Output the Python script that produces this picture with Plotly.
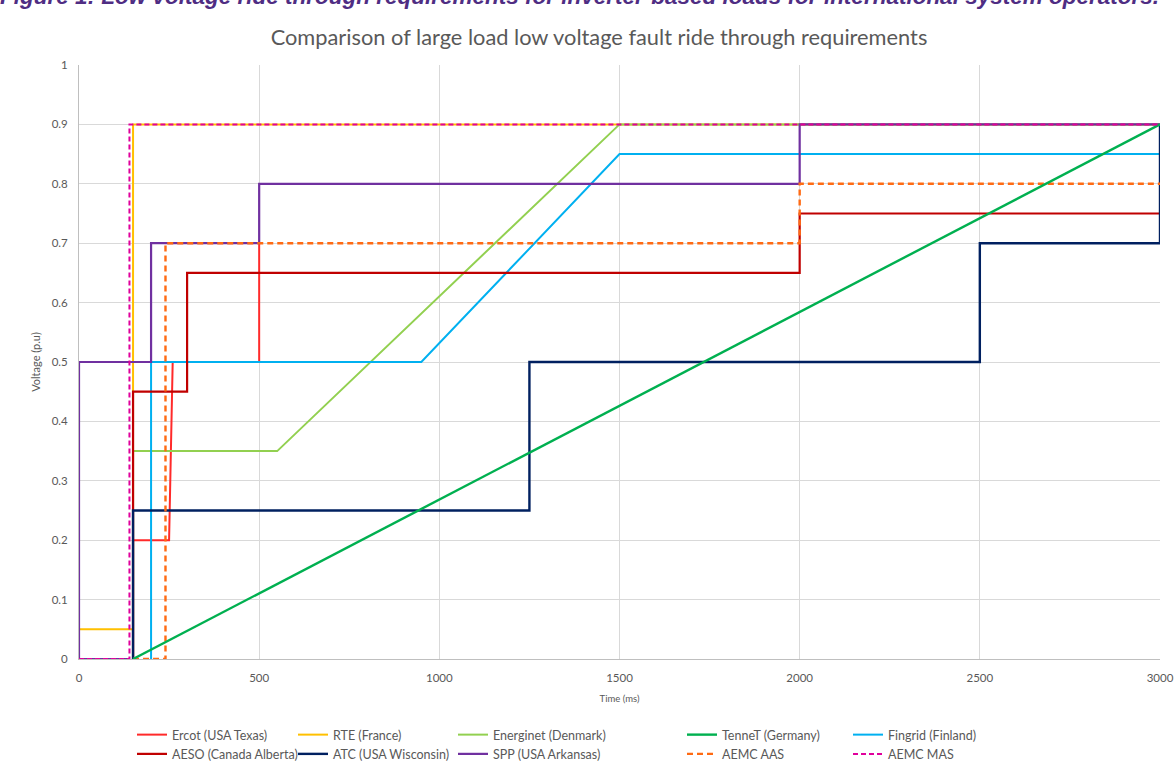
import plotly.graph_objects as go

# ---------------- data ----------------
ercot_x = [150, 150, 250, 260, 500, 500]
ercot_y = [0.0, 0.2, 0.2, 0.5, 0.5, 0.7]

rte_x = [0, 150, 150, 3000]
rte_y = [0.05, 0.05, 0.9, 0.9]

energinet_x = [150, 150, 550, 1500, 3000]
energinet_y = [0.0, 0.35, 0.35, 0.9, 0.9]

tennet_x = [150, 3000]
tennet_y = [0.0, 0.9]

fingrid_x = [200, 200, 950, 1500, 3000]
fingrid_y = [0.0, 0.5, 0.5, 0.85, 0.85]

aeso_x = [150, 150, 300, 300, 2000, 2000, 3000]
aeso_y = [0.0, 0.45, 0.45, 0.65, 0.65, 0.75, 0.75]

atc_x = [150, 150, 1250, 1250, 2500, 2500, 3000, 3000]
atc_y = [0.0, 0.25, 0.25, 0.5, 0.5, 0.7, 0.7, 0.9]

spp_x = [140, 0, 0, 200, 200, 500, 500, 2000, 2000, 3000]
spp_y = [0.0, 0.0, 0.5, 0.5, 0.7, 0.7, 0.8, 0.8, 0.9, 0.9]

aas_x = [150, 240, 240, 2000, 2000, 3000]
aas_y = [0.0, 0.0, 0.7, 0.7, 0.8, 0.8]

mas_x = [0, 140, 140, 3000]
mas_y = [0.0, 0.0, 0.9, 0.9]

x_ticks = [0, 500, 1000, 1500, 2000, 2500, 3000]
y_ticks = [0, 0.1, 0.2, 0.3, 0.4, 0.5, 0.6, 0.7, 0.8, 0.9, 1]

TITLE = "Comparison of large load low voltage fault ride through requirements"
CAPTION = ("Figure 1: Low voltage ride through requirements for inverter-based loads "
           "for international system operators.")

# ---------------- figure ----------------
# (name, x, y, color, width, dash, legend)
series = [
    ("Ercot (USA Texas)", ercot_x, ercot_y, "#ff2a2a", 2, None, "legend"),
    ("RTE (France)", rte_x, rte_y, "#ffc000", 2, None, "legend2"),
    ("Energinet (Denmark)", energinet_x, energinet_y, "#92d050", 2, None, "legend3"),
    ("Fingrid (Finland)", fingrid_x, fingrid_y, "#00b0f0", 2, None, "legend5"),
    ("AESO (Canada Alberta)", aeso_x, aeso_y, "#c00000", 2.2, None, "legend"),
    ("ATC (USA Wisconsin)", atc_x, atc_y, "#002060", 2.4, None, "legend2"),
    ("SPP (USA Arkansas)", spp_x, spp_y, "#7030a0", 2.2, None, "legend3"),
    ("AEMC AAS", aas_x, aas_y, "#ff6a13", 2.4, "6px,4px", "legend4"),
    ("TenneT (Germany)", tennet_x, tennet_y, "#00b050", 2.4, None, "legend4"),
    ("AEMC MAS", mas_x, mas_y, "#e0009c", 2, "5px,3px", "legend5"),
]

rank = {"Ercot (USA Texas)": 1, "AESO (Canada Alberta)": 2,
        "RTE (France)": 1, "ATC (USA Wisconsin)": 2,
        "Energinet (Denmark)": 1, "SPP (USA Arkansas)": 2,
        "TenneT (Germany)": 1, "AEMC AAS": 2,
        "Fingrid (Finland)": 1, "AEMC MAS": 2}

fig = go.Figure()
for name, xs, ys, col, w, dash, leg in series:
    fig.add_trace(go.Scatter(
        x=xs, y=ys, mode="lines", name=name,
        line=dict(color=col, width=w, dash=dash),
        legend=leg, legendrank=rank[name],
    ))

W, H = 1176, 771
L, R, T, B = 79, 16, 65, 112
pw, ph = W - L - R, H - T - B


def px2x(p):
    return (p - L) / pw


def py2y(p):
    return (H - B - p) / ph


FONT = "Lato, 'Open Sans', sans-serif"
legfont = dict(family=FONT, size=12.5, color="#595959")
legcols = [132, 293, 453, 682, 848]
leg_common = dict(orientation="v", xanchor="left", yanchor="top",
                  y=py2y(720), font=legfont, bgcolor="rgba(0,0,0,0)",
                  tracegroupgap=0, itemwidth=30)
layout_legends = {}
for i, c in enumerate(legcols):
    key = "legend" if i == 0 else f"legend{i+1}"
    layout_legends[key] = dict(leg_common, x=px2x(c))

fig.update_layout(
    width=W, height=H,
    margin=dict(l=L, r=R, t=T, b=B, autoexpand=False),
    paper_bgcolor="white", plot_bgcolor="white",
    font=dict(family=FONT, color="#595959"),
    title=dict(text=TITLE, x=px2x(599), xref="paper", xanchor="center",
               y=1 - 37 / H, yanchor="middle",
               font=dict(family=FONT, size=21.8, color="#595959")),
    xaxis=dict(range=[0, 3000], tickvals=x_ticks, showgrid=True, gridcolor="#d9d9d9",
               gridwidth=1, zeroline=False, showline=True, linecolor="#bfbfbf",
               tickfont=dict(size=11.5, color="#595959"), ticklabelstandoff=8,
               automargin=False,
               title=dict(text="Time (ms)", font=dict(size=9.5, color="#595959"), standoff=12)),
    yaxis=dict(range=[0, 1], tickvals=y_ticks, showgrid=True, gridcolor="#d9d9d9",
               gridwidth=1, zeroline=False, showline=True, linecolor="#bfbfbf",
               tickfont=dict(size=11.5, color="#595959"), ticklabelstandoff=8,
               automargin=False,
               title=dict(text="Voltage (p.u)", font=dict(size=11, color="#595959"), standoff=8)),
    showlegend=True,
    **layout_legends,
)

fig.add_annotation(
    text=f"<b><i>{CAPTION}</i></b>", xref="paper", yref="paper",
    x=px2x(-2), y=py2y(-4), xanchor="left", yanchor="middle", showarrow=False,
    font=dict(family="'Liberation Sans', Arial, sans-serif", size=22.5, color="#4f2d83"),
)

fig.write_html(
    "out.html",
    config={"displayModeBar": False},
    post_script="document.body.style.margin='0px';document.body.style.overflow='hidden';",
)
